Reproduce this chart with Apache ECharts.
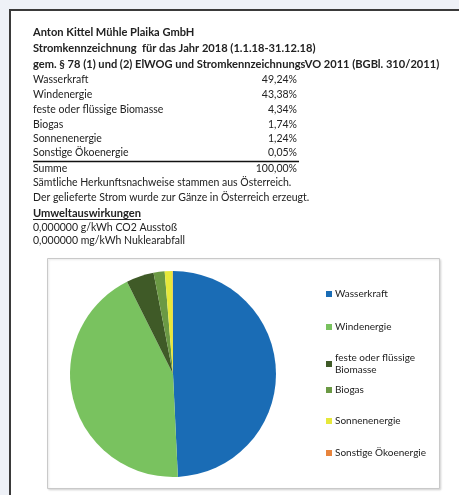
<!DOCTYPE html>
<html>
<head>
<meta charset="utf-8">
<script src="https://cdn.jsdelivr.net/npm/echarts@6/dist/echarts.min.js"></script>
<style>
  html, body { margin: 0; padding: 0; background: #eef1f7; }
  #chart { width: 459px; height: 495px; }
</style>
</head>
<body>
<div id="chart"></div>
<script>
// Header lines of the disclosure sheet
const headerLines = [
  'Anton Kittel Mühle Plaika GmbH',
  'Stromkennzeichnung  für das Jahr 2018 (1.1.18-31.12.18)',
  'gem. § 78 (1) und (2) ElWOG und StromkennzeichnungsVO 2011 (BGBl. 310/2011)'
];
// Energy sources and their shares in percent
const sources = ['Wasserkraft', 'Windenergie', 'feste oder flüssige Biomasse', 'Biogas', 'Sonnenenergie', 'Sonstige Ökoenergie'];
const shares = [49.24, 43.38, 4.34, 1.74, 1.24, 0.05];
const totalLabel = 'Summe';
const totalShare = 100.00;
// Notes below the table
const notes = [
  'Sämtliche Herkunftsnachweise stammen aus Österreich.',
  'Der gelieferte Strom wurde zur Gänze in Österreich erzeugt.'
];
const impactHeading = 'Umweltauswirkungen';
const impacts = ['0,000000 g/kWh CO2 Ausstoß', '0,000000 mg/kWh Nuklearabfall'];

const colors = ['#1a6cb5', '#79c25f', '#3f5a27', '#6b9944', '#e6e83a', '#e8843c'];

const FONT = 'Lato, "Liberation Sans", sans-serif';
const SIZE = 10.5;
const BOLD_SIZE = 11.1;
const TEXT = '#222';

function pct(v) { return v.toFixed(2).replace('.', ',') + '%'; }

function fontOf(weight) {
  return weight + ' ' + (weight === 'bold' ? BOLD_SIZE : SIZE) + 'px ' + FONT;
}

function textWidth(str, weight) {
  const c = document.createElement('canvas').getContext('2d');
  c.font = fontOf(weight);
  return c.measureText(str).width;
}

const leftX = 33, valueX = 297;
const graphics = [];

// white sheet with dark frame
graphics.push({ type: 'rect', shape: { x: 10, y: 10, width: 470, height: 500 },
  style: { fill: '#fff', stroke: '#3a3a3a', lineWidth: 2 }, z: 0 });
// chart frame
graphics.push({ type: 'rect', shape: { x: 47.5, y: 258.5, width: 392, height: 230 },
  style: { fill: '#fff', stroke: '#c9c9c9', lineWidth: 1, shadowBlur: 2, shadowColor: 'rgba(0,0,0,0.12)', shadowOffsetX: 1, shadowOffsetY: 1 }, z: 0 });

function addText(str, x, y, weight, align) {
  graphics.push({ type: 'text', x: x, y: y, z: 2,
    style: { text: str, font: fontOf(weight), fill: TEXT,
      textAlign: align || 'left', textVerticalAlign: 'middle' } });
}

const headerY = [32, 48, 64];
headerLines.forEach((t, i) => addText(t, leftX, headerY[i], 'bold'));

const rowY = [80, 95, 110, 125, 139, 153];
sources.forEach((s, i) => {
  addText(s, leftX, rowY[i], 'normal');
  addText(pct(shares[i]), valueX, rowY[i], 'normal', 'right');
});
// rule above the total
graphics.push({ type: 'line', z: 2, shape: { x1: leftX, y1: 161.5, x2: 299, y2: 161.5 },
  style: { stroke: '#111', lineWidth: 1.6 } });
addText(totalLabel, leftX, 169, 'normal');
addText(pct(totalShare), valueX, 169, 'normal', 'right');

const noteY = [183, 198];
notes.forEach((t, i) => addText(t, leftX, noteY[i], 'normal'));
addText(impactHeading, leftX, 213, 'bold');
graphics.push({ type: 'line', z: 2, shape: { x1: leftX, y1: 219.5, x2: leftX + textWidth(impactHeading, 'bold'), y2: 219.5 },
  style: { stroke: '#222', lineWidth: 1 } });
const impactY = [228, 241];
impacts.forEach((t, i) => addText(t, leftX, impactY[i], 'normal'));

// one legend block per source so each entry sits at its own row
const legendTops = [283, 316, 347, 379, 410, 442];
const legends = sources.map((s, i) => ({
  data: [s],
  orient: 'vertical',
  left: 321,
  top: legendTops[i],
  itemWidth: 6,
  itemHeight: 6,
  itemGap: 0,
  icon: 'rect',
  selectedMode: false,
  formatter: n => n === 'feste oder flüssige Biomasse' ? 'feste oder flüssige\nBiomasse' : n,
  textStyle: { fontFamily: FONT, fontSize: 10, fontWeight: 'normal', color: '#222', lineHeight: 12, padding: [0, 0, 0, -2] }
}));

const chart = echarts.init(document.getElementById('chart'), null, { renderer: 'canvas' });
chart.setOption({
  backgroundColor: '#eef1f7',
  animation: false,
  color: colors,
  graphic: graphics,
  legend: legends,
  series: [{
    type: 'pie',
    center: [173, 374],
    radius: 103,
    startAngle: 90,
    clockwise: true,
    label: { show: false },
    labelLine: { show: false },
    emphasis: { disabled: true },
    itemStyle: { borderWidth: 0 },
    data: sources.map((s, i) => ({ name: s, value: shares[i] }))
  }]
});
</script>
</body>
</html>
